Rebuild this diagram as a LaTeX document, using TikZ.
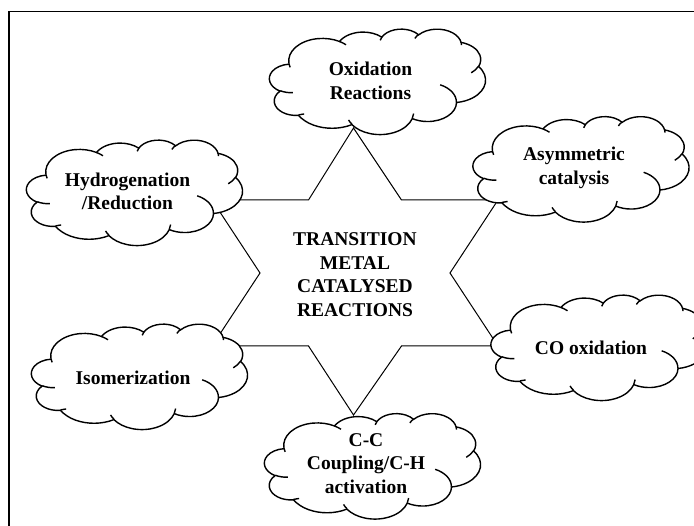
\documentclass[tikz,border=0pt]{standalone}
\usepackage{fontspec}
\setmainfont{Liberation Serif}
\newcommand\ooarc[4]{arc[x radius=#1, y radius=#2, start angle={pang(#1,#2,#3)}, delta angle={mod(pang(#1,#2,#3+#4)-pang(#1,#2,#3)+720,360)}]}

\begin{document}
\begin{tikzpicture}[x=1pt,y=-1pt, declare function={ pang(\p,\q,\w) = atan2(\p*sin(\w),\q*cos(\w));
                 },
  lbl/.style={align=center,inner sep=0pt,font=\bfseries\fontsize{19.5}{23.5}\selectfont},
  cloudsz/.style={xscale=0.5,yscale=0.244},
  pics/wcloud/.style={code={
    \draw[line width=1.4pt,fill=white] (-177,-72.3) \ooarc{67.53}{91.90}{-190.4875}{123.7805}
      \ooarc{53.33}{72.67}{-144.1024}{89.9452} \ooarc{43.65}{59.45}{-145.8079}{99.7230}
      \ooarc{48.57}{65.95}{-130.9861}{117.2417} \ooarc{53.33}{72.73}{-78.7089}{109.0269}
      \ooarc{67.75}{92.20}{-46.2673}{130.2690} \ooarc{57.85}{78.67}{0.6250}{114.0333}
      \ooarc{67.52}{92.15}{22.4516}{115.1726} \ooarc{77.20}{105.43}{66.2426}{75.7110}
      \ooarc{43.60}{59.18}{-274.9421}{146.7356} \ooarc{43.45}{59.45}{-246.8285}{152.5189} -- cycle;
    \draw[line width=1.4pt] (-169.07,45.77) \ooarc{43.45}{59.45}{86.742}{26.4295}
      (-146.72,132.99) \ooarc{43.60}{59.18}{73.6105}{11.4475}
      (-51.22,174.90) \ooarc{67.52}{92.15}{137.6242}{14.0811}
      (72.27,131.51) \ooarc{67.52}{92.15}{6.4533}{15.9984}
      (125.29,13.54) \ooarc{57.85}{78.67}{-70.2924}{70.9174}
      (201.98,-62.46) \ooarc{53.33}{72.73}{30.3180}{27.7515}
      (167.24,-161.74) \ooarc{48.57}{65.95}{-13.7443}{14.8589}
      (74.78,-176.48) \ooarc{48.57}{65.95}{-149.1815}{18.1954}
      (5.41,-168.80) \ooarc{43.65}{59.45}{-163.4943}{17.6864}
      (-76.00,-164.08) \ooarc{67.53}{91.90}{-66.7070}{12.3194}
      (-174.73,-58.11) \ooarc{67.53}{91.90}{157.6544}{11.8582};
  }}]

    \useasboundingbox (0,0) rectangle (694,526);
    \clip (0,0) rectangle (694,526);
    \draw[line width=1.4pt] (9,530) -- (9,11.5) -- (700,11.5);

    \draw[line width=1pt] (353.5,128) -- (308.5,200) -- (212,200) -- (260,273) -- (212,346)
      -- (308.5,346) -- (353.5,415) -- (401.5,346) -- (498,346) -- (450,273) -- (498,200)
      -- (401.5,200) -- cycle;

\pic[cloudsz] at (377.5,81.5) {wcloud};
\pic[cloudsz] at (581,169) {wcloud};
\pic[cloudsz] at (134.5,192.5) {wcloud};
\pic[cloudsz] at (139.5,376.5) {wcloud};
\pic[cloudsz] at (599,347.5) {wcloud};
\pic[cloudsz] at (372.5,466) {wcloud};

    \node[lbl] (tmc) at (355,274.5) {TRANSITION\\METAL\\CATALYSED\\REACTIONS};
    \node[lbl] (ox) at (370.5,81) {Oxidation\\Reactions};
    \node[lbl] (asym) at (574,168) {Asymmetric\\catalysis};
    \node[lbl] (hyd) at (127.5,191.5) {Hydrogenation\\/Reduction};
    \node[lbl] (iso) at (133,377.5) {Isomerization};
    \node[lbl] (co) at (591,348) {CO oxidation};
    \node[lbl] (cc) at (366,463.5) {C-C\\Coupling/C-H\\activation};

\end{tikzpicture}
\end{document}
